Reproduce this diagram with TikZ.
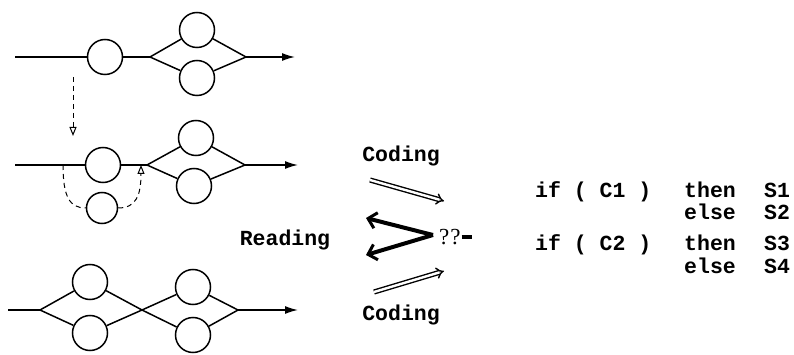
\documentclass[tikz,border=0pt]{standalone}
\usepackage{fontspec}
\newfontfamily\codefont{Liberation Mono}
\newfontfamily\qfont{Liberation Serif}
\usetikzlibrary{arrows.meta}
\begin{document}
\begin{tikzpicture}[x=1pt,y=-1pt,
  st/.style={circle,draw,line width=1.5pt,minimum size=35pt,inner sep=0pt},
  flow/.style={line width=1.5pt},
  flowarrow/.style={flow,-{Latex[length=13pt,width=8pt]}},
  dashlink/.style={line width=1pt,dash pattern=on 5pt off 4pt},
  dasharrow/.style={dashlink,-{Triangle[open,length=9pt,width=7pt,line width=1pt]}},
  coding/.style={double,double distance=2.4pt,line width=1.4pt,-{Implies[length=11pt,width=18pt]}},
  reading/.style={line width=4pt,-{Straight Barb[length=8pt,width=16pt,line width=3pt]}},
  lbl/.style={font=\codefont\bfseries\fontsize{21.5}{24}\selectfont,inner sep=0pt,anchor=base west}]
\useasboundingbox (0,0) rectangle (794,355);

% ---- top: a statement followed by a two-way branch
\coordinate (t0) at (15,57);
\node[st] (t1) at (105,57) {};
\coordinate (ts) at (150,57);
\node[st] (tu) at (197,30) {};
\node[st] (tl) at (197,78) {};
\coordinate (tm) at (246,57);
\coordinate (te) at (295,57);
\draw[flow] (t0) -- (t1) -- (ts);
\draw[flow] (ts) -- (tu) -- (tm);
\draw[flow] (ts) -- (tl) -- (tm);
\draw[flowarrow] (tm) -- (te);

% ---- transformation step
\coordinate (v0) at (73,77);
\coordinate (v1) at (73,136);
\draw[dasharrow] (v0) -- (v1);

% ---- middle: the first statement gets an alternative path
\coordinate (m0) at (15,165);
\node[st] (m1) at (103,165) {};
\coordinate (ms) at (147,165);
\node[st] (mu) at (196,138) {};
\node[st] (ml) at (194,186) {};
\coordinate (mm) at (245,165);
\coordinate (me) at (298,165);
\draw[flow] (m0) -- (m1) -- (ms);
\draw[flow] (ms) -- (mu) -- (mm);
\draw[flow] (ms) -- (ml) -- (mm);
\draw[flowarrow] (mm) -- (me);
\node[st,minimum size=31pt] (mx) at (102,208) {};
\coordinate (bx) at (63,165);
\coordinate (bj) at (141,165);
\draw[dashlink] (bx) .. controls +(0,32) and +(-16,0) .. (mx.west);
\draw[dasharrow] (mx.east) .. controls +(18,0) and +(0,30) .. (bj);

% ---- bottom: two branches in sequence
\coordinate (b0) at (8,310);
\coordinate (bs) at (40,310);
\node[st] (bu) at (90,282) {};
\node[st] (bl) at (90,333) {};
\coordinate (bm) at (142,310);
\node[st] (cu) at (193,287) {};
\node[st] (cl) at (193,335) {};
\coordinate (cm) at (238,310);
\coordinate (ce) at (298,310);
\draw[flow] (b0) -- (bs);
\draw[flow] (bs) -- (bu) -- (bm);
\draw[flow] (bs) -- (bl) -- (bm);
\draw[flow] (bm) -- (cu) -- (cm);
\draw[flow] (bm) -- (cl) -- (cm);
\draw[flowarrow] (cm) -- (ce);

% ---- coding / reading arrows
\node[lbl,anchor=base] (cod1) at (401,162) {Coding};
\node[lbl,anchor=base] (cod2) at (401,320) {Coding};
\node[lbl,anchor=base] (rd) at (285,245) {Reading};
\coordinate (c1a) at (370,180);
\coordinate (c1b) at (444,201);
\coordinate (c2a) at (374,292);
\coordinate (c2b) at (444,271);
\draw[coding] (c1a) -- (c1b);
\draw[coding] (c2a) -- (c2b);
\coordinate (rv) at (433,235);
\coordinate (r1) at (366,218);
\coordinate (r2) at (366,255);
\draw[reading] (rv) -- (r1);
\draw[reading] (rv) -- (r2);
\node[inner sep=0pt,anchor=base west,font=\qfont\fontsize{23}{26}\selectfont] (qq) at (439,244)
  {?\kern1pt?\kern1pt\rule[5.5pt]{10pt}{3.2pt}};

% ---- the code
\node[lbl] (if1) at (535,198) {if ( C1 )};
\node[lbl] (th1) at (684,198) {then};
\node[lbl] (s1) at (764,198) {S1};
\node[lbl] (el1) at (684,220) {else};
\node[lbl] (s2) at (764,220) {S2};
\node[lbl] (if2) at (535,251) {if ( C2 )};
\node[lbl] (th2) at (684,251) {then};
\node[lbl] (s3) at (764,251) {S3};
\node[lbl] (el2) at (684,273) {else};
\node[lbl] (s4) at (764,273) {S4};
\end{tikzpicture}
\end{document}
